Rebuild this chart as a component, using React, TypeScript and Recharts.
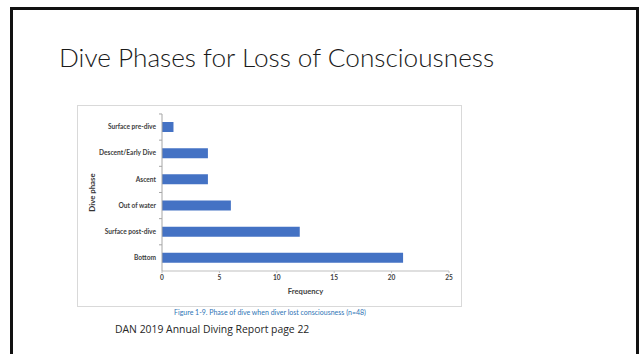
import React from 'react';
import { BarChart, Bar, XAxis, YAxis } from 'recharts';

const phases = [
  'Surface pre-dive',
  'Descent/Early Dive',
  'Ascent',
  'Out of water',
  'Surface post-dive',
  'Bottom',
];
const frequency = [1, 4, 4, 6, 12, 21];
const xTicks = [0, 5, 10, 15, 20, 25];

const data = phases.map((phase, i) => ({ phase, value: frequency[i] }));

const labelFont = 'Lato, "Liberation Sans", sans-serif';
const chartMargin = { top: 8, right: 12, bottom: 6, left: 9 };
const yAxisWidth = 75;

const PhaseTick = (props: any) => {
  const { x, y, payload } = props;
  const half = 13.1;
  const axisX = chartMargin.left + yAxisWidth;
  return (
    <g>
      <line x1={axisX - 3} x2={axisX} y1={y - half} y2={y - half} stroke="#a6a6a6" strokeWidth={1} />
      <text
        x={x}
        y={y}
        dy={2.2}
        textAnchor="end"
        fontSize={6.6}
        fontWeight="bold"
        fontFamily={labelFont}
        fill="#404040"
      >
        {payload.value}
      </text>
    </g>
  );
};

export default function App() {
  return (
    <div
      style={{
        position: 'absolute',
        left: 0,
        top: 0,
        width: 639,
        height: 354,
        overflow: 'hidden',
        background: '#fff',
      }}
    >
      <div
        style={{
          position: 'absolute',
          left: 10,
          top: 7,
          width: 629,
          height: 400,
          boxSizing: 'border-box',
          border: '3px solid #111',
        }}
      />
      <div
        style={{
          position: 'absolute',
          left: 59,
          top: 41,
          fontFamily: 'Lato, "Open Sans", sans-serif',
          fontWeight: 300,
          fontSize: 26.2,
          lineHeight: '32px',
          color: '#1a1a1a',
          whiteSpace: 'nowrap',
        }}
      >
        Dive Phases for Loss of Consciousness
      </div>
      <div
        style={{
          position: 'absolute',
          left: 77,
          top: 105,
          width: 385,
          height: 202,
          boxSizing: 'border-box',
          border: '1px solid #d9d9d9',
        }}
      >
        <BarChart
          width={383}
          height={200}
          layout="vertical"
          data={data}
          margin={chartMargin}
        >
          <XAxis
            type="number"
            domain={[0, 25]}
            ticks={xTicks}
            stroke="#bfbfbf"
            tickSize={2}
            height={29}
            tick={{ fontSize: 6.6, fontWeight: 'bold', fontFamily: labelFont, fill: '#404040' }}
            label={{
              value: 'Frequency',
              position: 'insideBottom',
              offset: 6,
              fontSize: 7.6,
              fontWeight: 'bold',
              fontFamily: labelFont,
              fill: '#404040',
            }}
          />
          <YAxis
            type="category"
            dataKey="phase"
            width={yAxisWidth}
            stroke="#a6a6a6"
            tickLine={false}
            tick={<PhaseTick />}
            tickMargin={0}
            label={{
              value: 'Dive phase',
              angle: -90,
              position: 'insideLeft',
              offset: 5,
              fontSize: 7.8,
              fontWeight: 'bold',
              fontFamily: labelFont,
              fill: '#333333',
              style: { textAnchor: 'middle' },
            }}
          />
          <Bar dataKey="value" fill="#4472c4" barSize={10} isAnimationActive={false} />
        </BarChart>
      </div>
      <div
        style={{
          position: 'absolute',
          left: 0,
          width: 540,
          top: 308,
          textAlign: 'center',
          fontFamily: labelFont,
          fontSize: 7,
          color: '#2e74b5',
          whiteSpace: 'nowrap',
        }}
      >
        Figure 1-9. Phase of dive when diver lost consciousness (n=48)
      </div>
      <div
        style={{
          position: 'absolute',
          left: 115,
          top: 322,
          fontFamily: '"Open Sans", sans-serif',
          fontSize: 10.4,
          lineHeight: '14px',
          color: '#262626',
          whiteSpace: 'nowrap',
        }}
      >
        DAN 2019 Annual Diving Report page 22
      </div>
    </div>
  );
}
